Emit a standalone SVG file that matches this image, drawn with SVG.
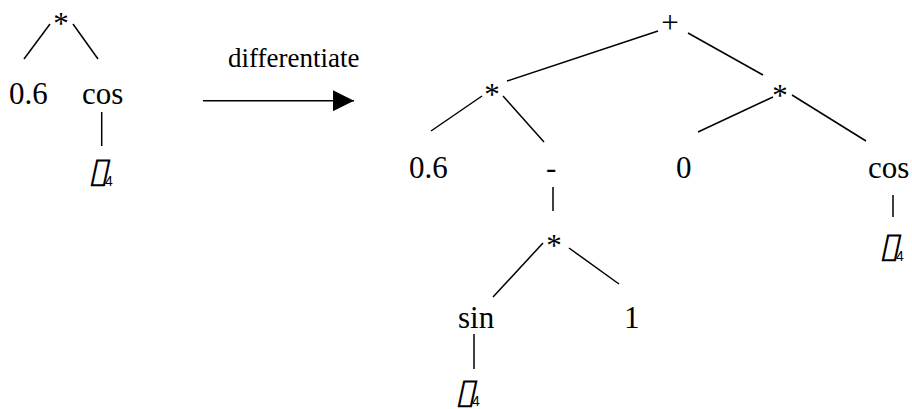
<svg xmlns="http://www.w3.org/2000/svg" width="912" height="409" viewBox="0 0 912 409">
<style>
text{fill:#000}
.t{font-family:'Liberation Serif','Times New Roman',Times,'DejaVu Serif',serif;font-size:31px}
.d{font-family:'Liberation Serif','Times New Roman',Times,'DejaVu Serif',serif;font-size:27px}
.bx{font-family:'DejaVu Sans',sans-serif;font-size:35px}
.e line{stroke:#000;stroke-width:1.5;fill:none}
</style>
<defs>
<marker id="ah" markerWidth="21" markerHeight="21" refX="21" refY="10.5" orient="auto" markerUnits="userSpaceOnUse">
<path d="M0,0 L21,10.5 L0,21 Z" fill="#000"/>
</marker>
</defs>
<rect width="912" height="409" fill="#fff"/>
<g id="connectors" class="e">
<line x1="50" y1="24" x2="24" y2="59"/>
<line x1="73" y1="24" x2="98" y2="59"/>
<line x1="101.7" y1="112" x2="101.7" y2="146"/>
<line x1="203" y1="100.7" x2="354" y2="100.7" marker-end="url(#ah)"/>
<line x1="658" y1="31" x2="507" y2="81"/>
<line x1="688" y1="33" x2="763" y2="75"/>
<line x1="482" y1="96" x2="431" y2="131"/>
<line x1="503" y1="96" x2="544" y2="142"/>
<line x1="773" y1="97" x2="698" y2="132"/>
<line x1="792" y1="95" x2="866" y2="141"/>
<line x1="893" y1="195" x2="893" y2="217"/>
<line x1="553" y1="187" x2="553" y2="211"/>
<line x1="543" y1="243" x2="493" y2="297"/>
<line x1="569" y1="248" x2="619" y2="284"/>
<line x1="474" y1="334" x2="474" y2="369"/>
</g>
<g id="n-l-mul"><text class="t" x="61" y="34" text-anchor="middle">*</text></g>
<g id="n-l-06"><text class="t" x="9" y="104">0.6</text></g>
<g id="n-l-cos"><text class="t" x="82" y="104">cos</text></g>
<g id="n-l-theta"><text class="bx" transform="translate(88,182) skewX(-12) scale(1.1,1)">▯</text><text style="font-family:'Liberation Sans',Arial,sans-serif;font-size:14px" x="105" y="186">4</text></g>
<g id="label-diff"><text class="d" x="228" y="67">differentiate</text></g>
<g id="n-plus"><text class="t" x="670" y="33" text-anchor="middle">+</text></g>
<g id="n-mul1"><text class="t" x="492" y="105" text-anchor="middle">*</text></g>
<g id="n-06"><text class="t" x="409" y="178">0.6</text></g>
<g id="n-neg"><text class="t" x="546" y="178">-</text></g>
<g id="n-0"><text class="t" x="676" y="178">0</text></g>
<g id="n-mul2"><text class="t" x="780" y="106" text-anchor="middle">*</text></g>
<g id="n-cos"><text class="t" x="868" y="178">cos</text></g>
<g id="n-theta1"><text class="bx" transform="translate(879,257) skewX(-12) scale(1.1,1)">▯</text><text style="font-family:'Liberation Sans',Arial,sans-serif;font-size:14px" x="896" y="261">4</text></g>
<g id="n-mul3"><text class="t" x="554" y="256" text-anchor="middle">*</text></g>
<g id="n-sin"><text class="t" x="458" y="328">sin</text></g>
<g id="n-1"><text class="t" x="624" y="328">1</text></g>
<g id="n-theta2"><text class="bx" transform="translate(455,403) skewX(-12) scale(1.1,1)">▯</text><text style="font-family:'Liberation Sans',Arial,sans-serif;font-size:14px" x="472" y="406">4</text></g>
</svg>
